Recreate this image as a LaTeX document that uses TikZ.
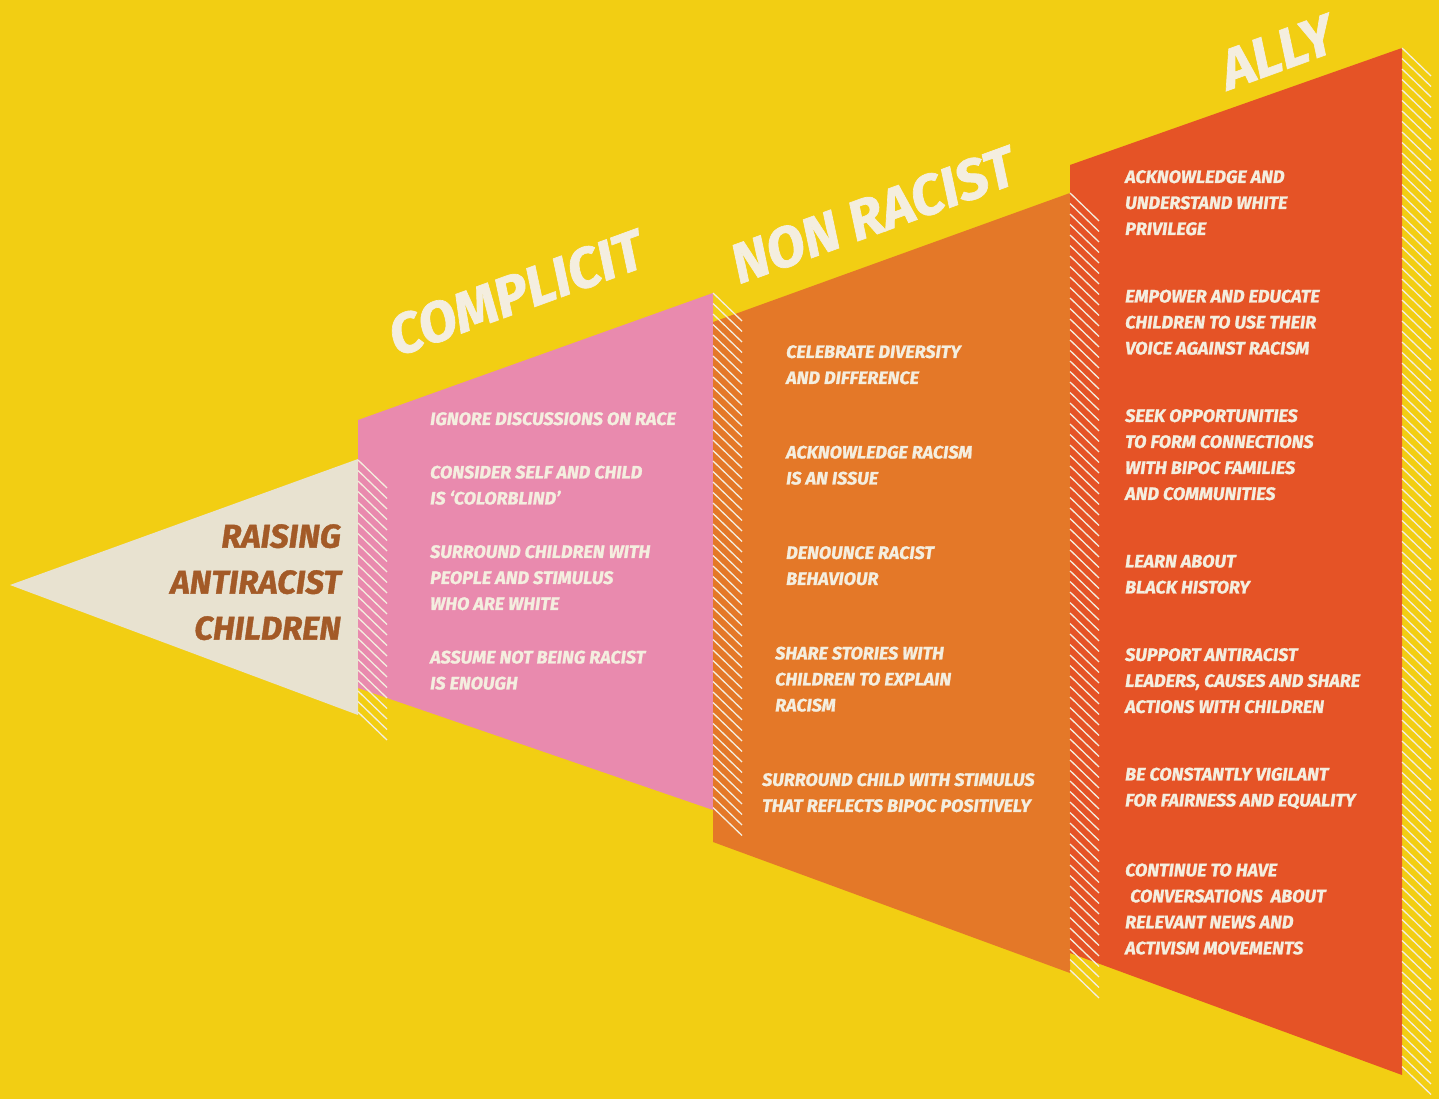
\documentclass[tikz,border=0pt]{standalone}
\usepackage{fontspec}
\newfontfamily\posterFont{Fira Sans}[FakeBold=1.2]
\usetikzlibrary{positioning}

\definecolor{posterYellow}{HTML}{F2CE13}
\definecolor{stageBeige}{HTML}{E8E2D0}
\definecolor{stagePink}{HTML}{E98AAE}
\definecolor{stageOrange}{HTML}{E47828}
\definecolor{stageRed}{HTML}{E55326}
\definecolor{chalk}{HTML}{F4EEDF}
\definecolor{rustBrown}{HTML}{A35A27}

\tikzset{
    item/.style={anchor=north west, inner sep=0pt, align=left, text=chalk,
        font=\posterFont\bfseries\itshape\fontsize{18}{26}\selectfont},
    stageTitle/.style={inner sep=0pt, rotate=20, text=chalk,
        font=\posterFont\bfseries\itshape\fontsize{56}{56}\selectfont},
    hatchLine/.style={chalk, line width=1.3pt},
}

\begin{document}
\begin{tikzpicture}[x=1pt, y=-1pt]
    \useasboundingbox (0,0) rectangle (1439,1099);
    \fill[posterYellow] (0,0) rectangle (1439,1099);

    \fill[stageBeige] (10,585) -- (358,459) -- (358,715) -- cycle;
    \fill[stagePink] (358,420) -- (713,293) -- (713,810) -- (358,688) -- cycle;
    \fill[stageOrange] (713,322) -- (1070,193) -- (1070,973) -- (713,842) -- cycle;
    \fill[stageRed] (1070,165) -- (1402,48) -- (1402,1075) -- (1070,953) -- cycle;

    \foreach \xr/\ytop/\ybot in {358/460/716, 713/293/812, 1070/193/974, 1402/48/1076} {
        \pgfmathtruncatemacro{\nLines}{(\ybot-\ytop)/10.5}
        \foreach \k in {0,...,\nLines}
            \draw[hatchLine] (\xr,\ytop+10.5*\k) -- ++(29,28);
    }

    \node[anchor=north east, inner sep=0pt, align=right, text=rustBrown,
        font=\posterFont\bfseries\itshape\fontsize{33}{46}\selectfont]
        (raisingText) at (341,524) {RAISING\\ANTIRACIST\\CHILDREN};

    \node[stageTitle] (complicitTitle) at (516,293) {COMPLICIT};
    \node[stageTitle] (nonRacistTitle) at (873,215) {NON RACIST};
    \node[stageTitle] (allyTitle) at (1277,52) {ALLY};

    \node[item] (ignoreItem) at (430,412) {IGNORE DISCUSSIONS ON RACE};
    \node[item, below = 40pt of ignoreItem.south west, anchor=north west] (colorblindItem) {CONSIDER SELF AND CHILD\\IS ‘COLORBLIND’};
    \node[item, below = 40pt of colorblindItem.south west, anchor=north west] (whiteItem) {SURROUND CHILDREN WITH\\PEOPLE AND STIMULUS\\WHO ARE WHITE};
    \node[item, below = 40pt of whiteItem.south west, anchor=north west] (enoughItem) {ASSUME NOT BEING RACIST\\IS ENOUGH};

    \node[item] (celebrateItem) at (786,345) {CELEBRATE DIVERSITY\\AND DIFFERENCE};
    \node[item, below = 61pt of celebrateItem.south west, anchor=north west] (issueItem) {ACKNOWLEDGE RACISM\\IS AN ISSUE};
    \node[item, below = 61pt of issueItem.south west, anchor=north west] (denounceItem) {DENOUNCE RACIST\\BEHAVIOUR};
    \node[item, below = 61pt of denounceItem.south west, anchor=north west, xshift=-11pt] (storiesItem) {SHARE STORIES WITH\\CHILDREN TO EXPLAIN\\RACISM};
    \node[item, below = 61pt of storiesItem.south west, anchor=north west, xshift=-13pt] (stimulusItem) {SURROUND CHILD WITH STIMULUS\\THAT REFLECTS BIPOC POSITIVELY};

    \node[item] (privilegeItem) at (1125,170) {ACKNOWLEDGE AND\\UNDERSTAND WHITE\\PRIVILEGE};
    \node[item, below = 54pt of privilegeItem.south west, anchor=north west] (empowerItem) {EMPOWER AND EDUCATE\\CHILDREN TO USE THEIR\\VOICE AGAINST RACISM};
    \node[item, below = 54pt of empowerItem.south west, anchor=north west] (connectItem) {SEEK OPPORTUNITIES\\TO FORM CONNECTIONS\\WITH BIPOC FAMILIES\\AND COMMUNITIES};
    \node[item, below = 54pt of connectItem.south west, anchor=north west] (historyItem) {LEARN ABOUT\\BLACK HISTORY};
    \node[item, below = 54pt of historyItem.south west, anchor=north west] (supportItem) {SUPPORT ANTIRACIST\\LEADERS, CAUSES AND SHARE\\ACTIONS WITH CHILDREN};
    \node[item, below = 54pt of supportItem.south west, anchor=north west] (vigilantItem) {BE CONSTANTLY VIGILANT\\FOR FAIRNESS AND EQUALITY};
    \node[item, below = 54pt of vigilantItem.south west, anchor=north west] (newsItem) {CONTINUE TO HAVE\\\hspace*{5pt}CONVERSATIONS\ \ ABOUT\\RELEVANT NEWS AND\\ACTIVISM MOVEMENTS};
\end{tikzpicture}
\end{document}
